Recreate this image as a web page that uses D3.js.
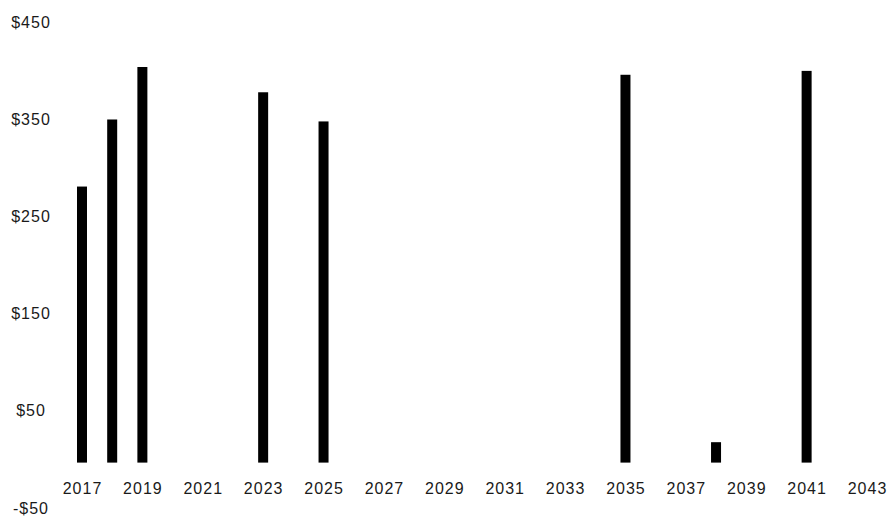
<!DOCTYPE html>
<html>
<head>
<meta charset="utf-8">
<script src="https://cdn.jsdelivr.net/npm/d3@7"></script>
<style>
  body { margin: 0; background: #fff; }
  svg text { font-family: "Liberation Sans", Arial, sans-serif; font-size: 16px; fill: #1a1a1a; letter-spacing: 1px; }
</style>
</head>
<body>
<svg id="chart" width="890" height="521"></svg>
<script>
// values
const years = [2017, 2018, 2019, 2023, 2025, 2035, 2038, 2041]
const values = [284, 353, 407, 381, 351, 399, 21, 403]
const xTicks = [2017, 2019, 2021, 2023, 2025, 2027, 2029, 2031, 2033, 2035, 2037, 2039, 2041, 2043]
const yTicks = [-50, 50, 150, 250, 350, 450]

const [width, height] = [890, 521]
const barWidth = 10
const svg = d3.select('#chart')

const x = d3.scaleLinear()
    .domain([2017, 2043])
    .range([82, 867])
const y = d3.scaleLinear()
    .domain([-50, 450])
    .range([511.2, 25.2])

const fmt = d => (d < 0 ? '-$' : '$') + Math.abs(d)

svg.append('g')
    .attr('fill', '#000')
    .selectAll('rect')
    .data(years)
    .join('rect')
        .attr('x', (d, i) => x(d) - barWidth / 2)
        .attr('y', (d, i) => y(Math.max(0, values[i])))
        .attr('width', barWidth)
        .attr('height', (d, i) => Math.abs(y(values[i]) - y(0)))

// x labels sit under the zero line
svg.append('g')
    .attr('transform', `translate(0, ${y(0)})`)
    .call(d3.axisBottom(x).tickValues(xTicks).tickFormat(d3.format('d')).tickSize(0).tickPadding(20))
    .call(g => g.select('.domain').remove())
    .call(g => g.selectAll('text').attr('font-size', null).attr('font-family', null))

// y labels are centred in the left margin
svg.append('g')
    .attr('transform', 'translate(31, 0)')
    .call(d3.axisLeft(y).tickValues(yTicks).tickFormat(fmt).tickSize(0))
    .call(g => g.select('.domain').remove())
    .call(g => g.selectAll('text')
        .attr('x', 0)
        .attr('dy', '0.12em')
        .attr('text-anchor', 'middle')
        .attr('font-size', null)
        .attr('font-family', null))
</script>
</body>
</html>
